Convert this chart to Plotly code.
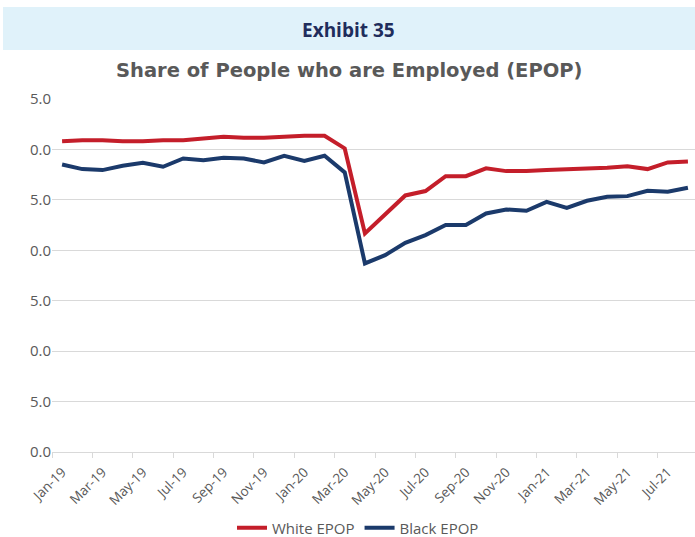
import plotly.graph_objects as go

months = ["Jan-19","Feb-19","Mar-19","Apr-19","May-19","Jun-19","Jul-19","Aug-19","Sep-19","Oct-19","Nov-19","Dec-19",
          "Jan-20","Feb-20","Mar-20","Apr-20","May-20","Jun-20","Jul-20","Aug-20","Sep-20","Oct-20","Nov-20","Dec-20",
          "Jan-21","Feb-21","Mar-21","Apr-21","May-21","Jun-21","Jul-21","Aug-21"]

white_epop = [60.82, 60.92, 60.92, 60.82, 60.82, 60.92, 60.92, 61.09, 61.25, 61.15, 61.15, 61.25,
              61.35, 61.35, 60.10, 51.67, 53.56, 55.44, 55.87, 57.35, 57.35, 58.12, 57.85, 57.85,
              57.95, 58.02, 58.08, 58.18, 58.32, 58.05, 58.71, 58.81]

black_epop = [58.51, 58.05, 57.95, 58.38, 58.68, 58.28, 59.10, 58.94, 59.17, 59.10, 58.71, 59.37,
              58.87, 59.37, 57.72, 48.70, 49.52, 50.74, 51.50, 52.50, 52.50, 53.65, 54.05, 53.92,
              54.80, 54.21, 54.91, 55.30, 55.37, 55.90, 55.80, 56.20]

y_tickvals = [30, 35, 40, 45, 50, 55, 60, 65]
y_ticktext = ["0.0", "5.0", "0.0", "5.0", "0.0", "5.0", "0.0", "5.0"]

FONT = "Open Sans"
GRAY = "#595959"
GRID = "#D9D9D9"

fig = go.Figure()
fig.add_trace(go.Scatter(x=months, y=white_epop, mode="lines", name="White EPOP",
                         line=dict(color="#C41E2A", width=4)))
fig.add_trace(go.Scatter(x=months, y=black_epop, mode="lines", name="Black EPOP",
                         line=dict(color="#1B3A6B", width=4)))

L, R, T, B = 52, 0, 99, 85
W, H = 695, 537
pw, ph = W - L - R, H - T - B

def px_x(x):
    return (x - L) / pw

def px_y(y):
    return (H - B - y) / ph

fig.update_layout(
    width=W, height=H,
    margin=dict(l=L, r=R, t=T, b=B, autoexpand=False),
    paper_bgcolor="white", plot_bgcolor="white",
    font=dict(family=FONT, color=GRAY),
    showlegend=True,
    legend=dict(orientation="h", x=px_x(358), y=px_y(528), xanchor="center", yanchor="middle",
                font=dict(size=15, color=GRAY), itemwidth=30, tracegroupgap=0,
                bgcolor="rgba(0,0,0,0)"),
    xaxis=dict(type="category", range=[-0.5, 31.35], tickson="boundaries", dtick=2,
               tickangle=-45, tickfont=dict(size=13.5, color=GRAY), ticklabelstandoff=6,
               showgrid=False, showline=True, linecolor=GRID, linewidth=1,
               ticks="outside", ticklen=5, tickcolor=GRID, automargin=False),
    yaxis=dict(range=[30, 65], tickvals=y_tickvals, ticktext=y_ticktext,
               tickfont=dict(size=15, color=GRAY), showgrid=True, gridcolor=GRID,
               gridwidth=1, zeroline=False, showline=False, ticks="",
               ticklabelstandoff=0, automargin=False),
    shapes=[dict(type="rect", xref="paper", yref="paper",
                 x0=px_x(3), x1=px_x(695), y0=px_y(50), y1=px_y(7),
                 fillcolor="#E0F2FA", line=dict(width=0), layer="below")],
    annotations=[
        dict(text="<b>Exhibit 35</b>", xref="paper", yref="paper", x=px_x(348), y=px_y(30),
             xanchor="center", yanchor="middle", showarrow=False,
             font=dict(family=FONT, size=19, color="#1F2D5C")),
        dict(text="<b>Share of People who are Employed (EPOP)</b>", xref="paper", yref="paper",
             x=px_x(349), y=px_y(70), xanchor="center", yanchor="middle", showarrow=False,
             font=dict(family="DejaVu Sans", size=19.5, color=GRAY)),
    ],
)

fig.write_html("out.html", config={"displayModeBar": False},
               post_script="document.body.style.margin='0';")
